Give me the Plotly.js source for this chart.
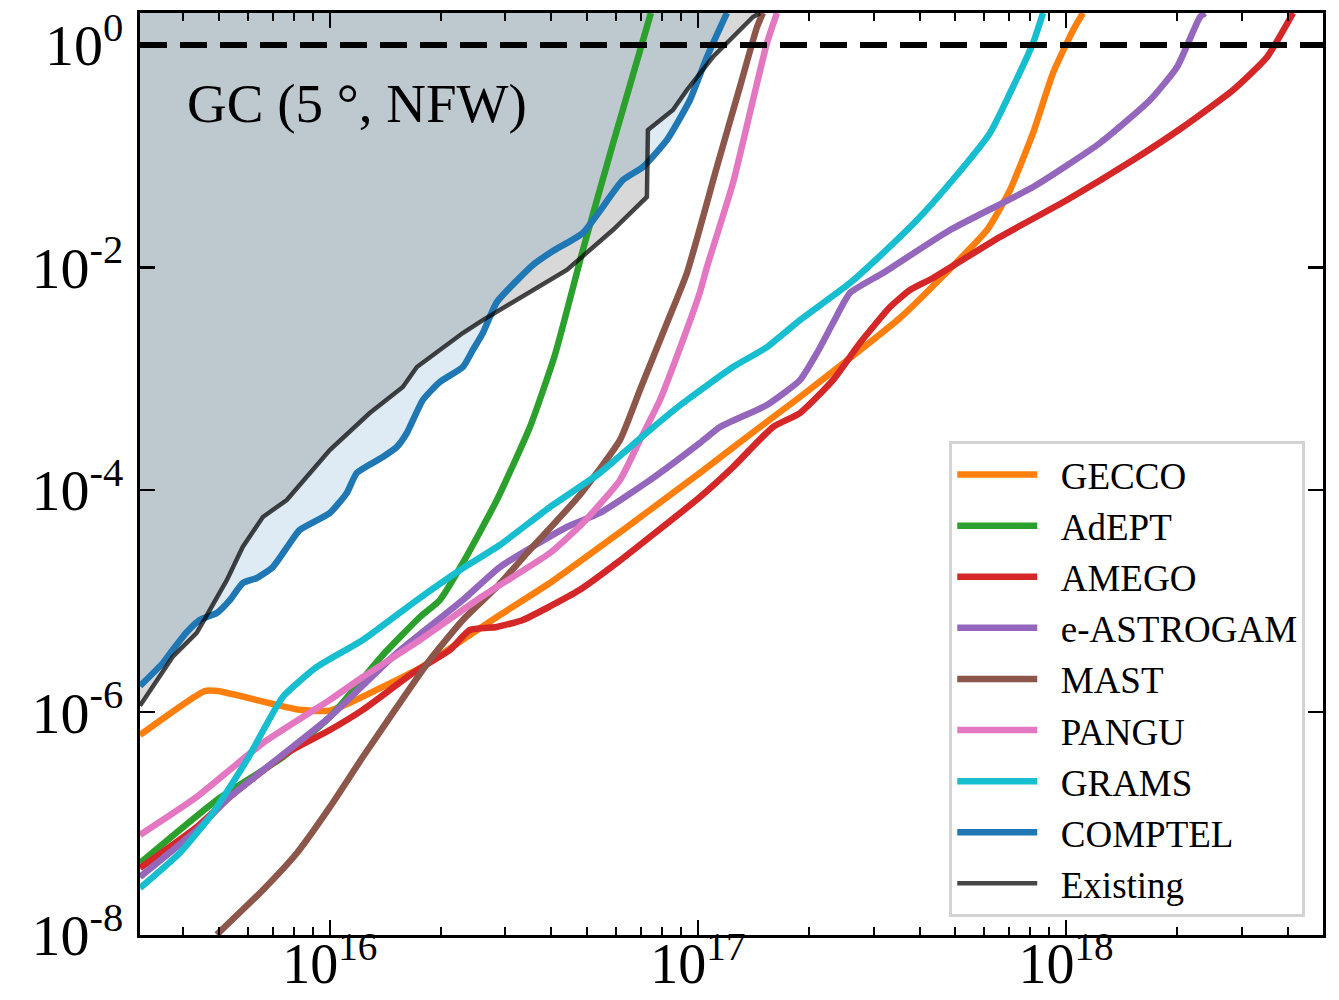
<!DOCTYPE html>
<html>
<head>
<meta charset="utf-8">
<script src="https://cdn.plot.ly/plotly-3.0.1.min.js"></script>
<style>html,body{margin:0;padding:0;background:#fff;}</style>
</head>
<body>
<div id="chart" style="width:1339px;height:1000px;"></div>
<script>
// ---- data (mass in g, fraction f) ----
const gecco_x = [3.05e15, 4.57e15, 4.97e15, 8.28e15, 1.0e16, 1.13e16, 1.757e16, 2.401e16, 2.897e16, 3.962e16, 5.416e16, 7.406e16, 1.013e17, 1.38e17, 1.893e17, 2.588e17, 3.539e17, 4.632e17, 6.10e17, 7.045e17, 8.136e17, 9.219e17, 1.045e18, 1.112e18];
const gecco_y = [6.24e-7, 1.55e-6, 1.55e-6, 1.05e-6, 1.03e-6, 1.21e-6, 2.50e-6, 4.94e-6, 7.48e-6, 1.45e-5, 3.06e-5, 6.58e-5, 1.42e-4, 3.11e-4, 6.83e-4, 1.53e-3, 3.51e-3, 8.37e-3, 0.0217, 0.0497, 0.162, 0.560, 1.36, 1.94];

const adept_x = [3.05e15, 4.93e15, 7.45e15, 1.0e16, 1.393e16, 1.757e16, 1.99e16, 2.298e16, 2.843e16, 3.496e16, 4.087e16, 4.869e16, 5.875e16, 7.452e16];
const adept_y = [4.40e-8, 1.62e-7, 3.95e-7, 9.05e-7, 3.27e-6, 7.18e-6, 1.02e-5, 2.20e-5, 8.10e-5, 3.67e-4, 1.63e-3, 0.01434, 0.1288, 1.94];

const amego_x = [3.05e15, 4.35e15, 5.35e15, 7.64e15, 1.0e16, 1.229e16, 1.681e16, 2.119e16, 2.401e16, 2.843e16, 3.346e16, 3.888e16, 4.778e16, 6.025e16, 7.406e16, 1.013e17, 1.245e17, 1.599e17, 1.893e17, 2.327e17, 2.755e17, 3.325e17, 3.768e17, 4.352e17, 6.619e17, 1.006e18, 1.521e18, 2.079e18, 2.843e18, 3.517e18, 4.138e18];
const amego_y = [3.97e-8, 9.28e-8, 1.73e-7, 4.30e-7, 6.92e-7, 1.05e-6, 2.25e-6, 3.62e-6, 5.48e-6, 5.84e-6, 6.75e-6, 8.65e-6, 1.26e-5, 2.20e-5, 3.76e-5, 8.61e-5, 1.60e-4, 3.67e-4, 4.90e-4, 9.69e-4, 2.09e-3, 4.40e-3, 6.26e-3, 8.03e-3, 0.0188, 0.0404, 0.0924, 0.183, 0.394, 0.780, 1.94];

const astrogam_x = [3.05e15, 4.35e15, 5.35e15, 7.31e15, 1.0e16, 1.521e16, 2.298e16, 2.897e16, 4.406e16, 5.416e16, 7.406e16, 1.013e17, 1.148e17, 1.540e17, 1.893e17, 2.106e17, 2.327e17, 2.588e17, 3.183e17, 4.840e17, 8.136e17, 1.237e18, 1.692e18, 2.003e18, 2.312e18, 2.386e18];
const astrogam_y = [3.30e-8, 8.72e-8, 1.73e-7, 3.95e-7, 9.05e-7, 3.41e-6, 1.02e-5, 2.02e-5, 4.63e-5, 6.19e-5, 1.22e-4, 2.64e-4, 3.67e-4, 5.79e-4, 9.69e-4, 1.70e-3, 3.16e-3, 5.89e-3, 8.91e-3, 0.0217, 0.0528, 0.1314, 0.320, 0.634, 1.786, 1.94];

const mast_x = [4.93e15, 6.58e15, 8.14e15, 1.0e16, 1.229e16, 1.521e16, 1.869e16, 2.298e16, 2.843e16, 3.496e16, 4.778e16, 6.138e16, 6.957e16, 8.239e16, 9.335e16, 1.126e17, 1.300e17, 1.447e17, 1.502e17];
const mast_y = [1.0e-8, 2.52e-8, 5.42e-8, 1.40e-7, 3.95e-7, 1.11e-6, 2.95e-6, 6.75e-6, 1.34e-5, 2.88e-5, 8.98e-5, 2.80e-4, 7.90e-4, 3.16e-3, 8.91e-3, 0.0800, 0.419, 1.451, 1.94];

const pangu_x = [3.05e15, 4.35e15, 6.58e15, 1.0e16, 1.229e16, 1.757e16, 2.556e16, 2.897e16, 3.962e16, 4.869e16, 6.138e16, 6.957e16, 7.885e16, 8.936e16, 1.013e17, 1.058e17, 1.245e17, 1.411e17, 1.540e17, 1.639e17];
const pangu_y = [7.87e-8, 1.73e-7, 5.28e-7, 1.29e-6, 2.07e-6, 4.46e-6, 1.064e-5, 1.39e-5, 2.70e-5, 5.03e-5, 1.22e-4, 2.80e-4, 6.42e-4, 1.88e-3, 6.01e-3, 0.01008, 0.0574, 0.320, 1.042, 1.94];

const grams_x = [3.05e15, 3.91e15, 4.81e15, 5.95e15, 7.45e15, 9.22e15, 1.229e16, 1.724e16, 2.26e16, 2.897e16, 3.962e16, 5.416e16, 7.406e16, 9.105e16, 1.245e17, 1.540e17, 1.893e17, 2.588e17, 3.183e17, 3.937e17, 4.840e17, 6.216e17, 7.045e17, 8.136e17, 8.660e17];
const grams_y = [2.62e-8, 5.42e-8, 1.24e-7, 3.71e-7, 1.37e-6, 2.55e-6, 4.46e-6, 1.02e-5, 1.90e-5, 3.19e-5, 7.00e-5, 1.42e-4, 3.45e-4, 6.03e-4, 1.27e-3, 1.92e-3, 3.36e-3, 7.24e-3, 0.01347, 0.0267, 0.0574, 0.162, 0.370, 1.042, 1.94];

const comptel_x = [3.05e15, 3.52e15, 3.74e15, 4.09e15, 4.43e15, 4.93e15, 5.35e15, 5.80e15, 6.33e15, 7.00e15, 7.79e15, 8.28e15, 1.0e16, 1.112e16, 1.184e16, 1.393e16, 1.521e16, 1.619e16, 1.789e16, 1.99e16, 2.298e16, 2.447e16, 2.604e16, 2.843e16, 3.562e16, 4.036e16, 4.869e16, 6.255e16, 7.089e16, 8.239e16, 9.512e16, 1.058e17, 1.199e17];
const comptel_y = [1.72e-6, 2.77e-6, 3.62e-6, 5.26e-6, 6.75e-6, 7.80e-6, 1.02e-5, 1.45e-5, 1.61e-5, 2.02e-5, 3.32e-5, 4.35e-5, 6.19e-5, 9.36e-5, 1.42e-4, 1.97e-4, 2.43e-4, 3.24e-4, 6.42e-4, 9.32e-4, 1.27e-3, 1.81e-3, 2.57e-3, 4.88e-3, 0.01051, 0.01404, 0.0204, 0.0611, 0.0800, 0.140, 0.320, 0.780, 1.94];

const existing_x = [3.05e15, 3.74e15, 4.35e15, 5.25e15, 5.80e15, 6.58e15, 7.64e15, 1.0e16, 1.284e16, 1.579e16, 1.724e16, 1.99e16, 2.298e16, 2.604e16, 2.897e16, 3.562e16, 4.406e16, 5.875e16, 7.268e16, 7.314e16, 8.554e16, 9.335e16, 1.098e17, 1.245e17, 1.411e17, 1.474e17];
const existing_y = [1.14e-6, 3.14e-6, 5.16e-6, 1.54e-5, 3.06e-5, 5.69e-5, 8.10e-5, 2.28e-4, 4.90e-4, 8.40e-4, 1.27e-3, 1.81e-3, 2.57e-3, 3.36e-3, 4.14e-3, 6.26e-3, 9.48e-3, 0.0217, 0.0430, 0.172, 0.260, 0.394, 0.780, 1.180, 1.786, 1.94];

const names = ['GECCO', 'AdEPT', 'AMEGO', 'e-ASTROGAM', 'MAST', 'PANGU', 'GRAMS', 'COMPTEL', 'Existing'];
const colors = ['#ff7f0e', '#2ca02c', '#d62728', '#9467bd', '#8c564b', '#e377c2', '#17becf', '#1f77b4', 'rgba(0,0,0,0.72)'];
const xTickVals = [1e16, 1e17, 1e18];
const xTickText = ['10<sup>16</sup>', '10<sup>17</sup>', '10<sup>18</sup>'];
const yTickVals = [1e-8, 1e-6, 1e-4, 1e-2, 1];
const yTickText = ['10<sup>-8</sup>', '10<sup>-6</sup>', '10<sup>-4</sup>', '10<sup>-2</sup>', '10<sup>0</sup>'];
const thresholdY = 1;
const annotationText = 'GC (5 °, NFW)';

// ---- build ----
const xRange = [Math.log10(3.05e15), Math.log10(4.99e18)];
const yRange = [-8.0036, 0.2878];
const yTop = 10;

const series = [
  [gecco_x, gecco_y], [adept_x, adept_y], [amego_x, amego_y], [astrogam_x, astrogam_y],
  [mast_x, mast_y], [pangu_x, pangu_y], [grams_x, grams_y], [comptel_x, comptel_y], [existing_x, existing_y]
];

function fillTrace(xs, ys, color) {
  return {
    x: xs.concat([xs[xs.length - 1], xs[0]]),
    y: ys.concat([yTop, yTop]),
    mode: 'lines', fill: 'toself', fillcolor: color,
    line: {width: 0}, showlegend: false, hoverinfo: 'skip'
  };
}

const traces = [
  fillTrace(comptel_x, comptel_y, 'rgba(31,119,180,0.15)'),
  fillTrace(existing_x, existing_y, 'rgba(72,72,72,0.21)')
];
const NB = '\u00a0\u00a0';
series.forEach((s, i) => {
  const isExisting = i === 8;
  traces.push({
    x: s[0], y: s[1], mode: 'lines', name: NB + names[i],
    line: isExisting ? {color: colors[i], width: 4.5} :
                       {color: colors[i], width: 6.5, shape: 'spline', smoothing: 0.5},
    hoverinfo: 'skip'
  });
});
traces.push({
  x: [Math.pow(10, xRange[0]), Math.pow(10, xRange[1])], y: [thresholdY, thresholdY],
  mode: 'lines', line: {color: 'black', width: 6, dash: '27px,13px'},
  showlegend: false, hoverinfo: 'skip'
});

const minorVals = [];
[15, 16, 17, 18].forEach(d => { for (let m = 2; m <= 9; m++) minorVals.push(m * Math.pow(10, d)); });

const serif = 'Liberation Serif, DejaVu Serif, serif';
const axisCommon = {
  type: 'log', showline: true, linewidth: 3, linecolor: 'black', mirror: 'ticks',
  ticks: 'inside', ticklen: 15, tickwidth: 2.5, tickcolor: 'black',
  showgrid: false, zeroline: false,
  tickfont: {family: serif, size: 58, color: 'black'}
};

const layout = {
  width: 1339, height: 1000,
  margin: {l: 140, r: 16, t: 13, b: 65},
  paper_bgcolor: 'white', plot_bgcolor: 'white',
  xaxis: Object.assign({}, axisCommon, {
    range: xRange, tickmode: 'array', tickvals: xTickVals, ticktext: xTickText,
    tickfont: {family: serif, size: 56, color: 'black'},
    ticklabelstandoff: -22,
    minor: {tickmode: 'array', tickvals: minorVals, ticks: 'inside', ticklen: 8, tickwidth: 2, tickcolor: 'black', showgrid: false}
  }),
  yaxis: Object.assign({}, axisCommon, {
    range: yRange, tickmode: 'array', tickvals: yTickVals, ticktext: yTickText,
    ticklabelstandoff: 2
  }),
  showlegend: true,
  legend: {
    x: 0.985, xanchor: 'right', y: 0.0195, yanchor: 'bottom',
    bgcolor: 'white', bordercolor: '#d3d3d3', borderwidth: 3,
    font: {family: serif, size: 37, color: 'black'},
    itemwidth: 80
  },
  annotations: [{
    xref: 'paper', yref: 'paper', x: 0.038, y: 0.902, xanchor: 'left', yanchor: 'middle',
    text: annotationText, showarrow: false,
    font: {family: serif, size: 55, color: 'black'}
  }]
};

Plotly.newPlot('chart', traces, layout, {displayModeBar: false, staticPlot: true});
</script>
</body>
</html>
